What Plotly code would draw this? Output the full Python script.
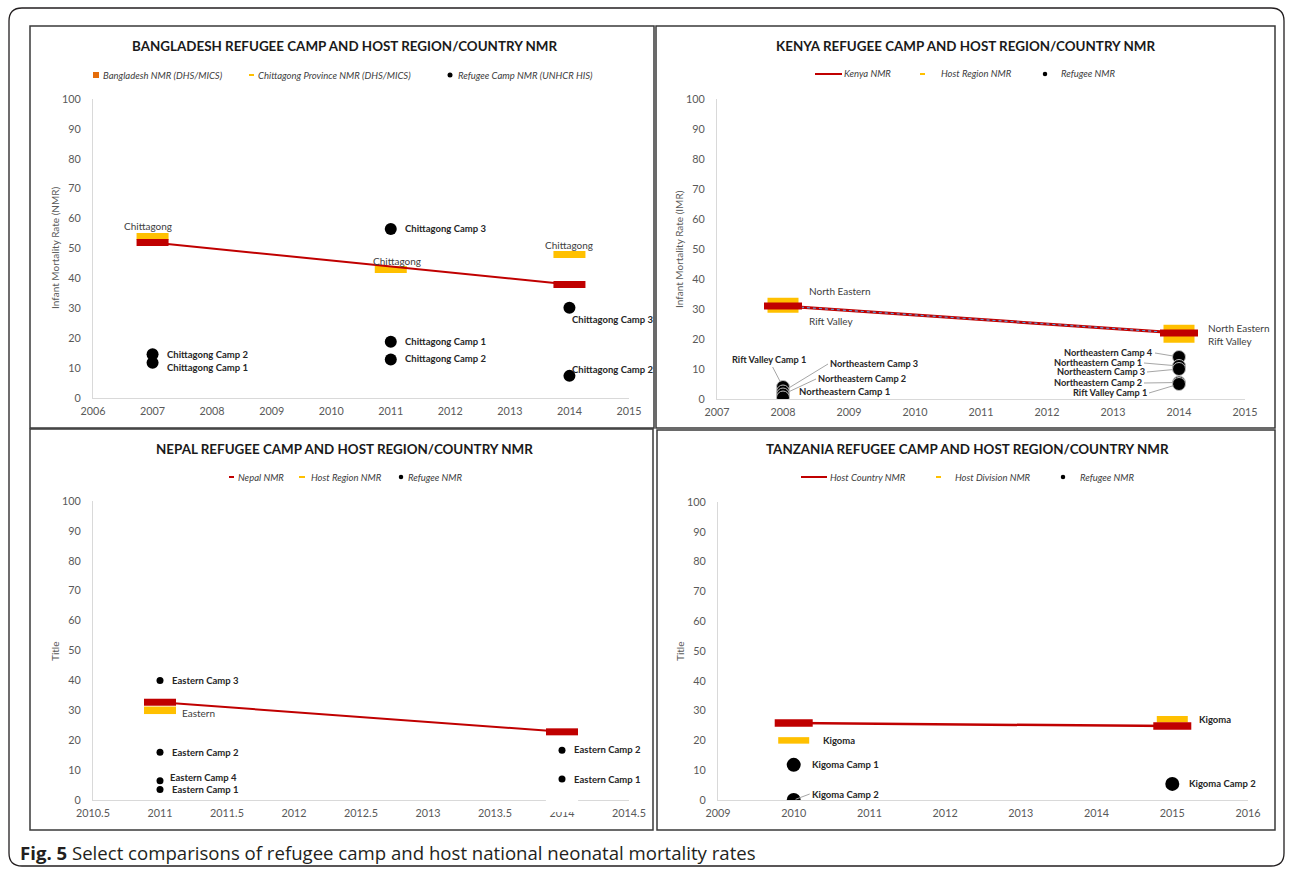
import plotly.graph_objects as go

# ---------------- data ----------------
# Bangladesh
bd_nat_years = [2007, 2014]
bd_nat_nmr = [52, 38]
bd_prov_years = [2007, 2011, 2014]
bd_prov_nmr = [54, 43, 48]
bd_prov_names = ["Chittagong", "Chittagong", "Chittagong"]
bd_camp_years = [2007, 2007, 2011, 2011, 2011, 2014, 2014]
bd_camp_nmr = [14.6, 11.8, 56.5, 18.8, 12.9, 30.2, 7.4]
bd_camp_names = ["Chittagong Camp 2", "Chittagong Camp 1", "Chittagong Camp 3",
                 "Chittagong Camp 1", "Chittagong Camp 2", "Chittagong Camp 3",
                 "Chittagong Camp 2"]
bd_xticks = [2006, 2007, 2008, 2009, 2010, 2011, 2012, 2013, 2014, 2015]

# Kenya
ke_nat_years = [2008, 2014]
ke_nat_nmr = [31, 22]
ke_reg_years = [2008, 2008, 2014, 2014]
ke_reg_nmr = [32.5, 30, 23.5, 20]
ke_reg_names = ["North Eastern", "Rift Valley", "North Eastern", "Rift Valley"]
ke_camp_years = [2008, 2008, 2008, 2008, 2014, 2014, 2014, 2014, 2014]
ke_camp_nmr = [4, 2.5, 1.5, 0.5, 14, 11, 10, 5.5, 5]
ke_camp_names = ["Rift Valley Camp 1", "Northeastern Camp 3", "Northeastern Camp 2",
                 "Northeastern Camp 1", "Northeastern Camp 4", "Northeastern Camp 1",
                 "Northeastern Camp 3", "Northeastern Camp 2", "Rift Valley Camp 1"]
ke_xticks = [2007, 2008, 2009, 2010, 2011, 2012, 2013, 2014, 2015]

# Nepal
np_nat_years = [2011, 2014]
np_nat_nmr = [32.7, 22.8]
np_reg_years = [2011]
np_reg_nmr = [30]
np_reg_names = ["Eastern"]
np_camp_years = [2011, 2011, 2011, 2011, 2014, 2014]
np_camp_nmr = [40, 16, 6.4, 3.5, 16.6, 7]
np_camp_names = ["Eastern Camp 3", "Eastern Camp 2", "Eastern Camp 4", "Eastern Camp 1",
                 "Eastern Camp 2", "Eastern Camp 1"]
np_xticks = [2010.5, 2011, 2011.5, 2012, 2012.5, 2013, 2013.5, 2014, 2014.5]
np_xtick_text = ["2010.5", "2011", "2011.5", "2012", "2012.5", "2013", "2013.5", "2014", "2014.5"]

# Tanzania
tz_nat_years = [2010, 2015]
tz_nat_nmr = [25.8, 24.8]
tz_div_years = [2010, 2015]
tz_div_nmr = [20, 27.1]
tz_div_names = ["Kigoma", "Kigoma"]
tz_camp_years = [2010, 2010, 2015]
tz_camp_nmr = [11.8, 0, 5.4]
tz_camp_names = ["Kigoma Camp 1", "Kigoma Camp 2", "Kigoma Camp 2"]
tz_xticks = [2009, 2010, 2011, 2012, 2013, 2014, 2015, 2016]

y_ticks = [0, 10, 20, 30, 40, 50, 60, 70, 80, 90, 100]

# ---------------- styling ----------------
W, H = 1292, 875
FONT = "Lato"
RED = "#C00000"
YELLOW = "#FFC000"
ORANGE = "#E46C0A"
INK = "#404040"
TICK = "#595959"
AXIS = "#D9D9D9"


def fx(p):
    return p / W


def fy(p):
    return 1 - p / H


fig = go.Figure()

# plot areas (left, right, top, bottom) in px, x range
panels = {
    1: dict(area=(93, 629, 99, 398), xr=(2006, 2015), ticks=bd_xticks, text=[str(v) for v in bd_xticks]),
    2: dict(area=(717, 1245, 99, 399), xr=(2007, 2015), ticks=ke_xticks, text=[str(v) for v in ke_xticks]),
    3: dict(area=(93, 629, 501, 800), xr=(2010.5, 2014.5), ticks=np_xticks, text=np_xtick_text),
    4: dict(area=(718, 1248, 502, 800), xr=(2009, 2016), ticks=tz_xticks, text=[str(v) for v in tz_xticks]),
}

layout_axes = {}
for k, p in panels.items():
    l, r, t, b = p["area"]
    s = "" if k == 1 else str(k)
    layout_axes["xaxis" + s] = dict(
        domain=[fx(l), fx(r)], range=list(p["xr"]), anchor="y" + s,
        tickmode="array", tickvals=p["ticks"], ticktext=p["text"],
        showgrid=False, zeroline=False, showline=True, linecolor=AXIS, linewidth=1,
        ticks="", ticklabelstandoff=3, automargin=False,
        tickfont=dict(family=FONT, size=10.8, color=TICK), fixedrange=True)
    layout_axes["yaxis" + s] = dict(
        domain=[fy(b), fy(t)], range=[0, 100], anchor="x" + s,
        tickmode="array", tickvals=y_ticks,
        showgrid=False, zeroline=False, showline=True, linecolor=AXIS, linewidth=1,
        ticks="", ticklabelstandoff=9, automargin=False,
        tickfont=dict(family=FONT, size=10.8, color=TICK), fixedrange=True)


def ax_ids(k):
    s = "" if k == 1 else str(k)
    return "x" + s, "y" + s


def add_bars(k, xs, ys, color, length, thick):
    xa, ya = ax_ids(k)
    fig.add_trace(go.Scatter(
        x=xs, y=ys, mode="markers", xaxis=xa, yaxis=ya, hoverinfo="skip",
        marker=dict(symbol="line-ew", size=length / 1.4, color=color,
                    line=dict(color=color, width=thick))))


def add_line(k, xs, ys, color, width, dash="solid"):
    xa, ya = ax_ids(k)
    fig.add_trace(go.Scatter(
        x=xs, y=ys, mode="lines", xaxis=xa, yaxis=ya, hoverinfo="skip",
        line=dict(color=color, width=width, dash=dash)))


def add_dots(k, xs, ys, size, outline=None):
    xa, ya = ax_ids(k)
    fig.add_trace(go.Scatter(
        x=xs, y=ys, mode="markers", xaxis=xa, yaxis=ya, hoverinfo="skip",
        marker=dict(color="black", size=size,
                    line=dict(color=outline or "black", width=1 if outline else 0))))


annotations = []


def label(k, x, y, text, dx, dy, bold=False, anchor="left", size=9.5):
    xa, ya = ax_ids(k)
    annotations.append(dict(
        x=x, y=y, xref=xa, yref=ya, text=f"<b>{text}</b>" if bold else text,
        showarrow=False, xanchor=anchor, yanchor="middle", xshift=dx, yshift=dy,
        font=dict(family=FONT, size=size, color="#262626" if bold else INK)))


def leader(k, x, y, text, ax, ay, anchor="left", standoff=6, size=9.5):
    xa, ya = ax_ids(k)
    annotations.append(dict(
        x=x, y=y, xref=xa, yref=ya, text=f"<b>{text}</b>",
        showarrow=True, arrowhead=0, arrowwidth=1, arrowcolor="#A6A6A6",
        ax=ax, ay=ay, standoff=standoff, xanchor=anchor, yanchor="middle",
        font=dict(family=FONT, size=size, color="#262626")))


# ---- Bangladesh ----
add_bars(1, bd_prov_years, bd_prov_nmr, YELLOW, 32, 7)
add_line(1, bd_nat_years, bd_nat_nmr, RED, 2)
add_bars(1, bd_nat_years, bd_nat_nmr, RED, 32, 7)
add_dots(1, bd_camp_years, bd_camp_nmr, 12)
for (x, y, t), (dx, dy) in zip(zip(bd_prov_years, bd_prov_nmr, bd_prov_names),
                               [(-5, 10.5), (6, 8), (0, 9.5)]):
    label(1, x, y, t, dx, dy, anchor="center", size=10)
for (x, y, t), (dx, dy) in zip(zip(bd_camp_years, bd_camp_nmr, bd_camp_names),
                               [(12, -0.5), (12, -4.5), (12, 0.5), (12, 0.5), (12, 0.5),
                                (1, -11.5), (1, 6)]):
    label(1, x, y, t, dx, dy, bold=True)

# ---- Kenya ----
add_bars(2, ke_reg_years, ke_reg_nmr, YELLOW, 31, 7.5)
add_line(2, ke_nat_years, ke_nat_nmr, RED, 3)
add_line(2, ke_nat_years, ke_nat_nmr, "#5B9BD5", 1.2, "dot")
add_bars(2, ke_nat_years, ke_nat_nmr, RED, 38, 7)
add_dots(2, ke_camp_years, ke_camp_nmr, 13, outline="#BFBFBF")
for (x, y, t), (dx, dy) in zip(zip(ke_reg_years, ke_reg_nmr, ke_reg_names),
                               [(24, 10.5), (24, -12), (27, 0.5), (27, -2)]):
    label(2, x, y, t, dx, dy, size=10)
ke_leaders = [(-14, -27, "center"), (45, -27.5, "left"), (33, -15.5, "left"), None,
              (-24, -4, "right"), (-35, -3, "right"), (-32, 3, "right"),
              (-35, 0.5, "right"), (-30, 9, "right")]
for (x, y, t), spec in zip(zip(ke_camp_years, ke_camp_nmr, ke_camp_names), ke_leaders):
    if spec is None:
        label(2, x, y, t, 14, 5.5, bold=True)
    else:
        leader(2, x, y, t, spec[0], spec[1], anchor=spec[2], size=9.2)

# ---- Nepal ----
add_bars(3, np_reg_years, np_reg_nmr, YELLOW, 32, 7.5)
add_line(3, np_nat_years, np_nat_nmr, RED, 2)
add_bars(3, np_nat_years, np_nat_nmr, RED, 32, 7)
add_dots(3, np_camp_years, np_camp_nmr, 7)
label(3, np_reg_years[0], np_reg_nmr[0], np_reg_names[0], 20, -3, size=10)
for (x, y, t), (dx, dy) in zip(zip(np_camp_years, np_camp_nmr, np_camp_names),
                               [(10, 0), (10, 0), (8, 3), (10, 0), (10, 0.5), (10, 0)]):
    label(3, x, y, t, dx, dy, bold=True)

# ---- Tanzania ----
add_bars(4, tz_div_years, tz_div_nmr, YELLOW, 31, 6.5)
add_line(4, tz_nat_years, tz_nat_nmr, RED, 2.5)
add_bars(4, tz_nat_years, tz_nat_nmr, RED, 38, 7.5)
add_dots(4, tz_camp_years, tz_camp_nmr, 14)
for (x, y, t), (dx, dy) in zip(zip(tz_div_years, tz_div_nmr, tz_div_names),
                               [(27, 0), (24.5, 0)]):
    label(4, x, y, t, dx, dy, bold=True)
label(4, tz_camp_years[0], tz_camp_nmr[0], tz_camp_names[0], 16, 0, bold=True)
leader(4, tz_camp_years[1], tz_camp_nmr[1], tz_camp_names[1], 16, -6, anchor="left", standoff=2)
label(4, tz_camp_years[2], tz_camp_nmr[2], tz_camp_names[2], 14.5, 0.5, bold=True)

# ---------------- frames, titles, legends ----------------
shapes = []

# outer rounded frame
L, T, R, B, rad = 9, 8, 1284, 866, 13
rx, ry = rad / W, rad / H
path = (f"M {fx(L)+rx},{fy(T)} L {fx(R)-rx},{fy(T)} Q {fx(R)},{fy(T)} {fx(R)},{fy(T)-ry} "
        f"L {fx(R)},{fy(B)+ry} Q {fx(R)},{fy(B)} {fx(R)-rx},{fy(B)} "
        f"L {fx(L)+rx},{fy(B)} Q {fx(L)},{fy(B)} {fx(L)},{fy(B)+ry} "
        f"L {fx(L)},{fy(T)-ry} Q {fx(L)},{fy(T)} {fx(L)+rx},{fy(T)} Z")
shapes.append(dict(type="path", path=path, xref="paper", yref="paper",
                   line=dict(color="#231F20", width=1.3)))

# panel borders
for (x0, y0, x1, y1) in [(30, 26, 654, 428), (656, 26, 1275, 428),
                         (30, 429, 653, 830), (657, 430, 1275, 830)]:
    shapes.append(dict(type="rect", xref="paper", yref="paper",
                       x0=fx(x0), x1=fx(x1), y0=fy(y1), y1=fy(y0),
                       line=dict(color="#3A3A3A", width=1.5)))

# gap in the Nepal x-axis line under the 2014 label box
shapes.append(dict(type="rect", xref="x3", yref="paper", x0=2013.88, x1=2014.12,
                   y0=fy(812), y1=fy(797), fillcolor="white", line=dict(width=0),
                   layer="above"))

titles = [
    ("BANGLADESH REFUGEE CAMP AND HOST REGION/COUNTRY NMR", 344, 46),
    ("KENYA REFUGEE CAMP AND HOST REGION/COUNTRY NMR", 965, 46),
    ("NEPAL REFUGEE CAMP AND HOST REGION/COUNTRY NMR", 345, 449),
    ("TANZANIA REFUGEE CAMP AND HOST REGION/COUNTRY NMR", 967, 449),
]
for t, x, y in titles:
    annotations.append(dict(text=f"<b>{t}</b>", x=fx(x), y=fy(y), xref="paper", yref="paper",
                            showarrow=False, xanchor="center", yanchor="middle",
                            font=dict(family=FONT, size=13.4, color="#1A1A1A")))

ytitles = [("Infant Mortality Rate (NMR)", 55, 248), ("Infant Mortality Rate (IMR)", 679, 249),
           ("Title", 55, 651), ("Title", 680, 651)]
for t, x, y in ytitles:
    annotations.append(dict(text=t, x=fx(x), y=fy(y), xref="paper", yref="paper",
                            showarrow=False, textangle=-90, xanchor="center", yanchor="middle",
                            font=dict(family=FONT, size=10, color=TICK)))


def legend_text(text, x, y):
    annotations.append(dict(text=f"<i>{text}</i>", x=fx(x), y=fy(y), xref="paper", yref="paper",
                            showarrow=False, xanchor="left", yanchor="middle",
                            font=dict(family=FONT, size=9.5, color=INK)))


def leg_square(x, y, color, s=6):
    shapes.append(dict(type="rect", xref="paper", yref="paper", x0=fx(x - s / 2), x1=fx(x + s / 2),
                       y0=fy(y + s / 2), y1=fy(y - s / 2), fillcolor=color, line=dict(width=0)))


def leg_line(x0, x1, y, color, w=2):
    shapes.append(dict(type="line", xref="paper", yref="paper", x0=fx(x0), x1=fx(x1),
                       y0=fy(y), y1=fy(y), line=dict(color=color, width=w)))


def leg_dot(x, y, d=5):
    shapes.append(dict(type="circle", xref="paper", yref="paper", x0=fx(x - d / 2), x1=fx(x + d / 2),
                       y0=fy(y + d / 2), y1=fy(y - d / 2), fillcolor="black", line=dict(width=0)))


# Bangladesh legend
leg_square(96, 75, ORANGE)
legend_text("Bangladesh NMR (DHS/MICS)", 101, 75)
leg_line(249, 254, 75, YELLOW)
legend_text("Chittagong Province NMR (DHS/MICS)", 256, 75)
leg_dot(450, 75)
legend_text("Refugee Camp NMR (UNHCR HIS)", 456, 75)
# Kenya legend
leg_line(815, 842, 74, RED)
legend_text("Kenya NMR", 842, 74)
leg_line(920, 925, 74, YELLOW)
legend_text("Host Region NMR", 939, 74)
leg_dot(1045, 74, 4.5)
legend_text("Refugee NMR", 1059, 74)
# Nepal legend
leg_line(229, 234, 477, RED)
legend_text("Nepal NMR", 236, 477)
leg_line(299, 305, 477, YELLOW)
legend_text("Host Region NMR", 309, 477)
leg_dot(401, 477, 4.5)
legend_text("Refugee NMR", 406, 477)
# Tanzania legend
leg_line(801, 827, 477, RED)
legend_text("Host Country NMR", 828, 477)
leg_line(936, 941, 477, YELLOW)
legend_text("Host Division NMR", 953, 477)
leg_dot(1063, 477, 4.5)
legend_text("Refugee NMR", 1078, 477)

# caption
annotations.append(dict(
    text="<b>Fig. 5</b> Select comparisons of refugee camp and host national neonatal mortality rates",
    x=fx(18), y=fy(852), xref="paper", yref="paper", showarrow=False,
    xanchor="left", yanchor="middle", font=dict(family="Open Sans", size=18.6, color="#231F20")))

fig.update_layout(
    width=W, height=H, margin=dict(l=0, r=0, t=0, b=0, pad=0, autoexpand=False),
    paper_bgcolor="white", plot_bgcolor="rgba(0,0,0,0)",
    showlegend=False, shapes=shapes, annotations=annotations,
    **layout_axes)

fig.write_html("out.html")
